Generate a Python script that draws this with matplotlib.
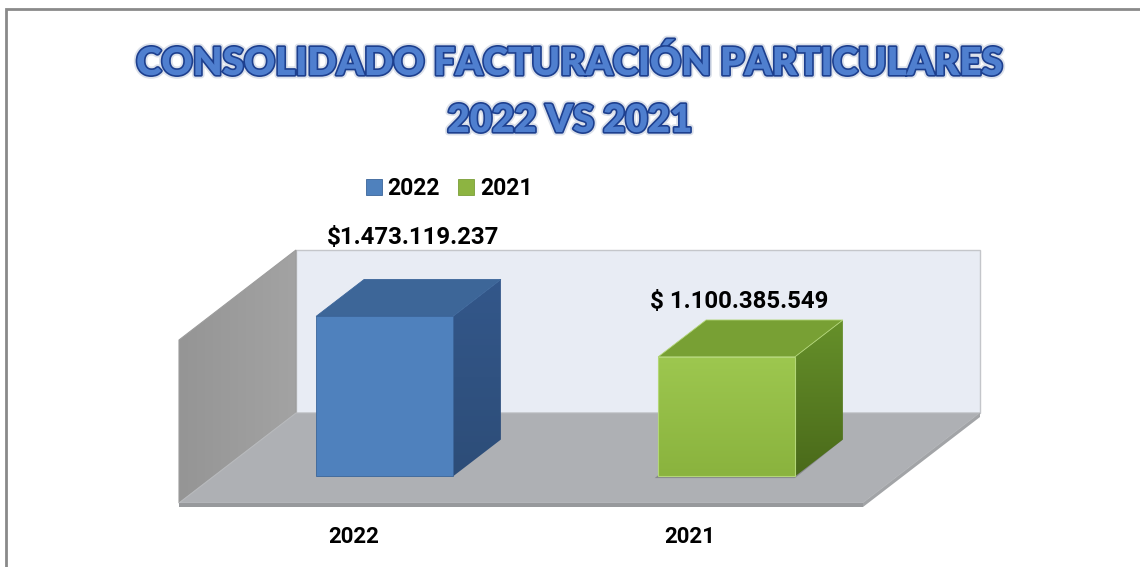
import numpy as np
import matplotlib
matplotlib.use('Agg')
import matplotlib.pyplot as plt
import matplotlib.patheffects as pe
from matplotlib.patches import Polygon, Rectangle, Patch

# data
categories = ['2022', '2021']
values = [1473119237, 1100385549]
value_labels = ['$1.473.119.237', '$ 1.100.385.549']
title_lines = ['CONSOLIDADO FACTURACIÓN PARTICULARES', '2022 VS 2021']

# scene geometry (pixels at dpi 100)
W, H = 1140, 567
VMAX = 1.5e9
PX_CAT = 342.0          # pixels between categories
X0 = 350.0              # pixel x of first category, front plane
FLOOR_Y = 64.0          # floor front edge, pixels from bottom
WALL_PX = 163.0         # wall height in pixels
SV = WALL_PX / VMAX     # pixels per value unit
DX = 117.0 / PX_CAT     # depth offset in category units
DY = 90.0 / SV          # depth offset in value units
BAR_W = 0.40
D0, D1 = 0.295, 0.705   # bar depth range
THICK = 4.0 / SV

front_cols = ['#4F81BD', '#97C04A']
top_cols = ['#3D6698', '#78A034']
side_cols = [('#33578A', '#2D4D78'), ('#66902A', '#4A6A1A')]
edge_cols = ['#3B659A', '#B3D677']
label_offsets = [(-19, 42), (-35, 18)]
LABEL_FONT = 'Roboto'


def P(i, v, d):
    return (i + d * DX, v + d * DY)


def gradient(ax, xy, c1, c2, vertical=True, z=1):
    poly = Polygon(xy, closed=True, facecolor='none', edgecolor='none', zorder=z)
    ax.add_patch(poly)
    xs = [p[0] for p in xy]
    ys = [p[1] for p in xy]
    a = np.array(matplotlib.colors.to_rgb(c1))
    b = np.array(matplotlib.colors.to_rgb(c2))
    t = np.linspace(0, 1, 64)
    col = a[None, :] * (1 - t[:, None]) + b[None, :] * t[:, None]
    if vertical:
        img = col[:, None, :]          # c1 at top row
    else:
        img = col[None, :, :]          # c1 at left
    im = ax.imshow(img, extent=(min(xs), max(xs), min(ys), max(ys)),
                   aspect='auto', origin='upper', interpolation='bilinear', zorder=z)
    im.set_clip_path(poly)


fig = plt.figure(figsize=(W / 100, H / 100), dpi=100)
ax = fig.add_axes([0, 0, 1, 1])
ax.set_axis_off()

# back wall
back = [P(-0.5, 0, 1), P(1.5, 0, 1), P(1.5, VMAX, 1), P(-0.5, VMAX, 1)]
ax.add_patch(Polygon(back, closed=True, facecolor='#E8ECF4', edgecolor='#C4C6CA', lw=1, zorder=1))

# left wall
left = [P(-0.5, 0, 0), P(-0.5, 0, 1), P(-0.5, VMAX, 1), P(-0.5, VMAX, 0)]
gradient(ax, left, '#959595', '#A3A3A3', vertical=False, z=2)
ax.add_patch(Polygon(left, closed=True, facecolor='none', edgecolor='#9C9C9C', lw=0.8, zorder=2))

# floor slab
floor = [P(-0.5, 0, 0), P(1.5, 0, 0), P(1.5, 0, 1), P(-0.5, 0, 1)]
ax.add_patch(Polygon(floor, closed=True, facecolor='#AEB0B4', edgecolor='#B8BABD', lw=0.8, zorder=3))
ax.add_patch(Polygon([P(-0.5, -THICK, 0), P(1.5, -THICK, 0), P(1.5, 0, 0), P(-0.5, 0, 0)],
                     closed=True, facecolor='#97999C', edgecolor='none', zorder=3))
ax.add_patch(Polygon([P(1.5, -THICK, 0), P(1.5, -THICK, 1), P(1.5, 0, 1), P(1.5, 0, 0)],
                     closed=True, facecolor='#A2A4A7', edgecolor='none', zorder=3))

# bars
for k, (cat, val) in enumerate(zip(categories, values)):
    l, r = k - BAR_W / 2, k + BAR_W / 2
    z = 5
    if k == 1:
        shadow = [P(l - 0.01, -0.01 * VMAX, D0), P(r, -0.01 * VMAX, D0),
                  P(r, 0, D1), P(l - 0.01, 0, D1)]
        ax.add_patch(Polygon(shadow, closed=True, facecolor='#6E7073', edgecolor='none',
                             alpha=0.6, zorder=4))
    front = [P(l, 0, D0), P(r, 0, D0), P(r, val, D0), P(l, val, D0)]
    top = [P(l, val, D0), P(r, val, D0), P(r, val, D1), P(l, val, D1)]
    side = [P(r, 0, D0), P(r, 0, D1), P(r, val, D1), P(r, val, D0)]
    gradient(ax, side, side_cols[k][0], side_cols[k][1], vertical=True, z=z)
    ax.add_patch(Polygon(top, closed=True, facecolor=top_cols[k], edgecolor=edge_cols[k],
                         lw=0.6, zorder=z))
    if k == 1:
        gradient(ax, front, '#9DC74F', '#8AB33E', vertical=True, z=z)
        ax.add_patch(Polygon(front, closed=True, facecolor='none', edgecolor=edge_cols[k],
                             lw=0.8, zorder=z))
    else:
        ax.add_patch(Polygon(front, closed=True, facecolor=front_cols[k], edgecolor=edge_cols[k],
                             lw=0.6, zorder=z))

    ax.annotate(value_labels[k], xy=P(k, val, D1), xytext=label_offsets[k],
                textcoords='offset pixels', ha='center', va='center',
                fontsize=17.3, fontweight='bold', family=LABEL_FONT, color='black', zorder=10)
    ax.annotate(cat, xy=(k, 0), xytext=(4 if k == 0 else -2, -34), textcoords='offset pixels',
                ha='center', va='center', fontsize=16, fontweight='bold',
                family=LABEL_FONT, color='black', zorder=10)

ax.set_xlim(-X0 / PX_CAT, (W - X0) / PX_CAT)
ax.set_ylim(-FLOOR_Y / SV, (H - FLOOR_Y) / SV)

# legend
handles = [Patch(facecolor=front_cols[0], edgecolor='#3B659A', lw=0.6),
           Patch(facecolor='#8DB441', edgecolor='#7A9E38', lw=0.6)]
fig.legend(handles, categories, loc='center', bbox_to_anchor=(449 / W, 1 - 189 / H),
           ncol=2, frameon=False, handlelength=0.7, handleheight=0.7,
           handletextpad=0.25, columnspacing=0.8,
           prop={'family': LABEL_FONT, 'weight': 'bold', 'size': 16.5})

# title
title_fx = [pe.withStroke(linewidth=5, foreground='#DCE1EA'),
            pe.withStroke(linewidth=2.4, foreground='#1D3F8E')]
for n, (line, ypix) in enumerate(zip(title_lines, [63, 121])):
    fig.text(570 / W, 1 - ypix / H, line, ha='center', va='center', fontsize=27.7,
             fontweight=800, family='Lato', color='#4F7FCF', path_effects=title_fx)

# outer frame
fig.add_artist(Rectangle((6 / W, -0.05), (W + 10) / W, 1.05 - 8.5 / H, transform=fig.transFigure,
                         fill=False, edgecolor='#8A8A8A', lw=2))

fig.savefig('out.png', dpi=100)
